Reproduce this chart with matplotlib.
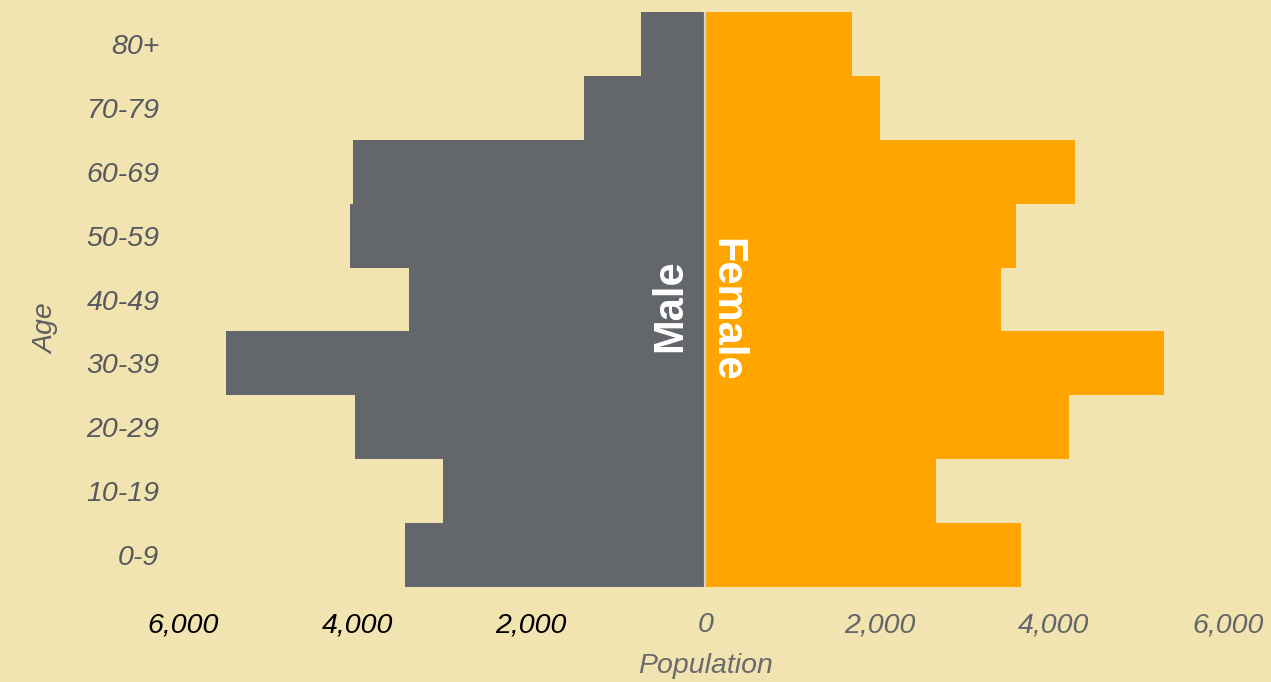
import matplotlib
matplotlib.use("Agg")
import matplotlib.pyplot as plt

plt.rcParams['font.family'] = ['Liberation Sans', 'DejaVu Sans']

ages = ['0-9', '10-19', '20-29', '30-39', '40-49', '50-59', '60-69', '70-79', '80+']
male = [3450, 3010, 4030, 5510, 3400, 4080, 4050, 1400, 740]
female = [3620, 2650, 4170, 5260, 3390, 3560, 4240, 2000, 1680]
xticks = [-6000, -4000, -2000, 0, 2000, 4000, 6000]

bg = '#F1E4B0'
grey = '#63666A'
orange = '#FFA500'

fig = plt.figure(figsize=(12.71, 6.82), dpi=100, facecolor=bg)
ax = fig.add_axes([183 / 1271, 95 / 682, 1045 / 1271, 575 / 682])
ax.set_facecolor(bg)

pos = range(len(ages))
ax.barh(pos, [-m for m in male], height=1.0, color=grey, linewidth=0)
ax.barh(pos, female, height=1.0, color=orange, linewidth=0)
ax.axvline(0, color='#d4d4d4', linewidth=1.6)

ax.set_xlim(-6000, 6000)
ax.set_ylim(-0.5, 8.5)
for s in ax.spines.values():
    s.set_visible(False)

ax.set_yticks(list(pos))
ax.set_yticklabels(ages, fontsize=20.5, style='italic', color='#56595e')
ax.set_xticks(xticks)
ax.set_xticklabels([f'{abs(v):,}' for v in xticks], fontsize=20.5, style='italic')
for lab, v in zip(ax.get_xticklabels(), xticks):
    lab.set_color('black' if v < 0 else '#63666A')
ax.tick_params(axis='y', length=0, pad=17)
ax.tick_params(axis='x', length=0, pad=18)

ax.set_xlabel('Population', fontsize=20.5, style='italic', color='#6b6b6b')
ax.xaxis.set_label_coords(0.5, -0.115)
ax.set_ylabel('Age', fontsize=20.5, style='italic', color='#5f5f5f')
ax.yaxis.set_label_coords(-0.118, 0.45)

ax.text(-400, 3.9, 'Male', rotation=90, ha='center', va='center',
        fontsize=30, fontweight='bold', color='white')
ax.text(235, 3.84, 'Female', rotation=270, ha='center', va='center',
        fontsize=30, fontweight='bold', color='white')

fig.savefig('out.png', dpi=100, facecolor=bg)
